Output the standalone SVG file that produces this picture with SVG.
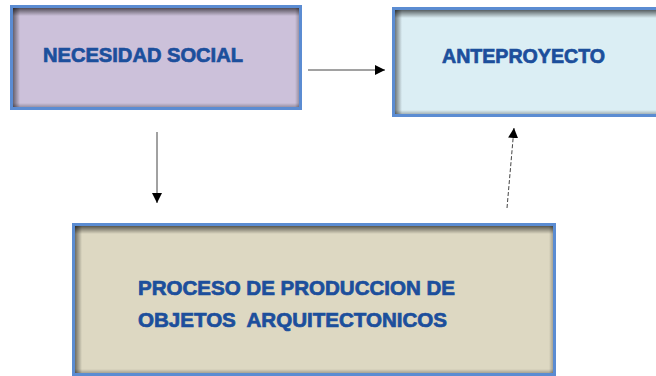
<svg xmlns="http://www.w3.org/2000/svg" width="656" height="376" viewBox="0 0 656 376">
<style>
  .lbl { font-family: "Liberation Sans", Arial, sans-serif; font-weight: bold; font-size: 20px; fill: #1c4f9c; stroke: #1c4f9c; stroke-width: 0.7; white-space: pre; }
  .frame { fill: none; stroke: #5b8cd2; stroke-width: 3; }
  .conn { stroke: #444; stroke-width: 1; fill: none; }
</style>
<defs>
  <linearGradient id="shTop" x1="0" y1="0" x2="0" y2="1">
    <stop offset="0" stop-color="#000" stop-opacity="0.6"/>
    <stop offset="1" stop-color="#000" stop-opacity="0"/>
  </linearGradient>
  <linearGradient id="shLeft" x1="0" y1="0" x2="1" y2="0">
    <stop offset="0" stop-color="#000" stop-opacity="0.5"/>
    <stop offset="1" stop-color="#000" stop-opacity="0"/>
  </linearGradient>
  <linearGradient id="shBot" x1="0" y1="1" x2="0" y2="0">
    <stop offset="0" stop-color="#000" stop-opacity="0.25"/>
    <stop offset="1" stop-color="#000" stop-opacity="0"/>
  </linearGradient>
  <linearGradient id="shRight" x1="1" y1="0" x2="0" y2="0">
    <stop offset="0" stop-color="#000" stop-opacity="0.25"/>
    <stop offset="1" stop-color="#000" stop-opacity="0"/>
  </linearGradient>
  <marker id="ah" viewBox="0 0 10 10" refX="10" refY="5" markerWidth="10" markerHeight="10" markerUnits="userSpaceOnUse" orient="auto">
    <path d="M0,0 L10,5 L0,10 Z" fill="#000"/>
  </marker>
</defs>

<g id="necesidad-social">
  <rect x="11.5" y="6.5" width="289" height="102" fill="#ccc1da"/>
  <rect x="13" y="8" width="286" height="8" fill="url(#shTop)"/>
  <rect x="13" y="8" width="7" height="99" fill="url(#shLeft)"/>
  <rect x="13" y="103" width="286" height="4" fill="url(#shBot)"/>
  <rect x="295" y="8" width="4" height="99" fill="url(#shRight)"/>
  <rect class="frame" x="11.5" y="6.5" width="289" height="102"/>
  <text class="lbl" x="43" y="62" textLength="200" lengthAdjust="spacingAndGlyphs">NECESIDAD SOCIAL</text>
</g>

<g id="anteproyecto">
  <rect x="393.5" y="8.5" width="280" height="107" fill="#dbeef4"/>
  <rect x="395" y="10" width="270" height="8" fill="url(#shTop)"/>
  <rect x="395" y="10" width="7" height="104" fill="url(#shLeft)"/>
  <rect x="395" y="110" width="270" height="4" fill="url(#shBot)"/>
  <rect class="frame" x="393.5" y="8.5" width="280" height="107"/>
  <text class="lbl" x="442" y="63" textLength="163" lengthAdjust="spacingAndGlyphs">ANTEPROYECTO</text>
</g>

<g id="proceso">
  <rect x="73.5" y="224.5" width="481" height="150" fill="#ddd8c2"/>
  <rect x="75" y="226" width="478" height="8" fill="url(#shTop)"/>
  <rect x="75" y="226" width="7" height="147" fill="url(#shLeft)"/>
  <rect x="75" y="369" width="478" height="4" fill="url(#shBot)"/>
  <rect x="549" y="226" width="4" height="147" fill="url(#shRight)"/>
  <rect class="frame" x="73.5" y="224.5" width="481" height="150"/>
  <text class="lbl" x="138" y="295" textLength="317" lengthAdjust="spacingAndGlyphs">PROCESO DE PRODUCCION DE</text>
  <text class="lbl" x="138" y="327" textLength="309" lengthAdjust="spacingAndGlyphs">OBJETOS  ARQUITECTONICOS</text>
</g>

<g id="connectors">
  <line class="conn" x1="308" y1="70" x2="385" y2="70" marker-end="url(#ah)"/>
  <line class="conn" x1="157" y1="132" x2="157" y2="203" marker-end="url(#ah)"/>
  <line class="conn" x1="507" y1="208" x2="514" y2="128" stroke-dasharray="4,2" marker-end="url(#ah)"/>
</g>
</svg>
